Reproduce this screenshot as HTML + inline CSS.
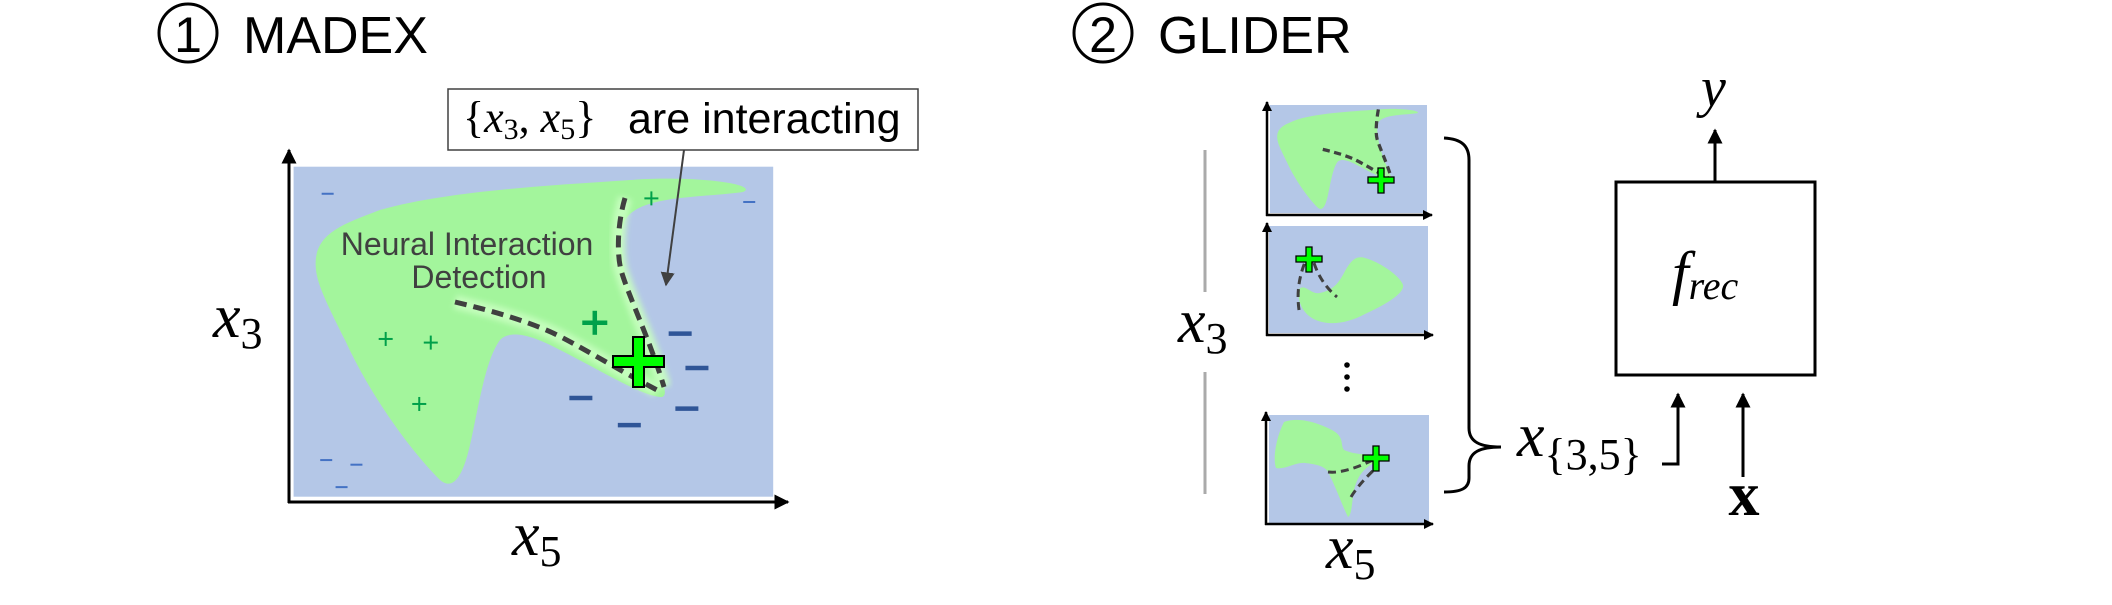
<!DOCTYPE html>
<html><head><meta charset="utf-8"><style>
html,body{margin:0;padding:0;background:#fff;}
svg{display:block;}
.sans{font-family:"Liberation Sans",Arial,sans-serif;}
.math{font-family:"Liberation Serif","DejaVu Serif",serif;font-style:italic;}
.rm{font-family:"Liberation Serif","DejaVu Serif",serif;}
</style></head><body>
<svg id="fig" width="2112" height="605" viewBox="0 0 2112 605" xmlns="http://www.w3.org/2000/svg">
<defs>
<marker id="ah" viewBox="0 0 10 10" refX="9" refY="5" markerWidth="5" markerHeight="5" orient="auto"><path d="M0,0 L10,5 L0,10 Z" fill="#000"/></marker>
<marker id="ahs" viewBox="0 0 10 10" refX="9" refY="5" markerWidth="4" markerHeight="4" orient="auto"><path d="M0,0 L10,5 L0,10 Z" fill="#000"/></marker>
<marker id="ahg" viewBox="0 0 10 10" refX="9" refY="5" markerWidth="7" markerHeight="7" orient="auto"><path d="M0,0 L10,5 L0,10 Z" fill="#404040"/></marker>
<filter id="blur" x="-20%" y="-20%" width="140%" height="140%"><feGaussianBlur stdDeviation="3"/></filter>
<g id="blob">
<path d="M316,270 C312,235 340,225 380,210 C450,190 560,185 630,180 C700,175 760,185 743,192 C700,198 640,195 625,220 C615,240 628,300 645,340 C660,375 672,398 660,397 C640,395 600,370 560,350 C530,334 510,330 500,340 C485,360 478,410 470,445 C462,480 452,490 440,480 C410,450 370,395 345,340 C325,300 318,285 316,270 Z" fill="#a3f59c"/>
</g>
</defs>

<g>
<circle cx="188" cy="33" r="29" fill="none" stroke="#000" stroke-width="3"/>
<text x="188" y="52" text-anchor="middle" class="sans" font-size="50">1</text>
<text x="243" y="53" class="sans" font-size="52">MADEX</text>
</g>

<g>
<rect x="293.6" y="166.7" width="479.6" height="330" fill="#b4c7e7"/>
<use href="#blob"/>
<path d="M455,302 C480,308 520,318 553,333 C580,346 615,368 657,390" fill="none" stroke="#c8ffc0" stroke-width="14" filter="url(#blur)" opacity="0.9"/>
<path d="M625,198 C617,225 617,255 621,270 C628,295 650,340 664,387" fill="none" stroke="#c8ffc0" stroke-width="14" filter="url(#blur)" opacity="0.9"/>
<path d="M455,302 C480,308 520,318 553,333 C580,346 615,368 657,390" fill="none" stroke="#404040" stroke-width="5" stroke-dasharray="12 7"/>
<path d="M625,198 C617,225 617,255 621,270 C628,295 650,340 664,387" fill="none" stroke="#404040" stroke-width="5" stroke-dasharray="12 7"/>
<text x="467" y="255" text-anchor="middle" class="sans" font-size="32" fill="#404040">Neural Interaction</text>
<text x="479" y="288" text-anchor="middle" class="sans" font-size="32" fill="#404040">Detection</text>
<g id="markers"></g>
<path d="M633,337 h11 v19 h20 v11 h-20 v20 h-11 v-20 h-20 v-11 h20 z" fill="#00ff00" stroke="#000" stroke-width="2"/>
<line x1="289" y1="503" x2="289" y2="150" stroke="#000" stroke-width="3" marker-end="url(#ah)"/>
<line x1="288" y1="502" x2="788" y2="502" stroke="#000" stroke-width="3" marker-end="url(#ah)"/>
<text x="213" y="337" class="math" font-size="62">x<tspan class="rm" font-style="normal" font-size="44" dy="11">3</tspan></text>
<text x="512" y="555" class="math" font-size="62">x<tspan class="rm" font-style="normal" font-size="44" dy="11">5</tspan></text>
</g>

<g>
<rect x="448" y="89" width="470" height="61" fill="#fff" stroke="#404040" stroke-width="1.5"/>
<text x="463" y="132" font-size="44"><tspan class="rm">{</tspan><tspan class="math">x</tspan><tspan class="rm" font-size="30" dy="7">3</tspan><tspan class="rm" dy="-7">, </tspan><tspan class="math">x</tspan><tspan class="rm" font-size="30" dy="7">5</tspan><tspan class="rm" dy="-7">}</tspan></text>
<text x="628" y="133" class="sans" font-size="43">are interacting</text>
<line x1="684" y1="150" x2="666" y2="285" stroke="#404040" stroke-width="2" marker-end="url(#ahg)"/>
</g>

<g>
<circle cx="1103" cy="33" r="29" fill="none" stroke="#000" stroke-width="3"/>
<text x="1103" y="52" text-anchor="middle" class="sans" font-size="50">2</text>
<text x="1158" y="53" class="sans" font-size="52">GLIDER</text>
</g>

<line x1="1205" y1="150" x2="1205" y2="292" stroke="#aaa" stroke-width="3"/>
<line x1="1205" y1="372" x2="1205" y2="494" stroke="#aaa" stroke-width="3"/>
<text x="1178" y="342" class="math" font-size="62">x<tspan class="rm" font-style="normal" font-size="44" dy="11">3</tspan></text>

<g>
<rect x="1270" y="105" width="157" height="108" fill="#b4c7e7"/>
<g transform="translate(1270,105) scale(0.327,0.328) translate(-293.6,-166.7)">
<use href="#blob"/>
<path d="M455,302 C480,308 520,318 553,333 C580,346 615,368 657,390" fill="none" stroke="#404040" stroke-width="10" stroke-dasharray="22 14"/>
<path d="M625,180 C617,225 617,255 621,270 C628,295 650,340 664,387" fill="none" stroke="#404040" stroke-width="10" stroke-dasharray="22 14"/>
</g>
<path d="M1378,168 h6 v9 h10 v6 h-10 v10 h-6 v-10 h-10 v-6 h10 z" fill="#00ff00" stroke="#000" stroke-width="1.3"/>
<line x1="1267" y1="216" x2="1267" y2="102" stroke="#000" stroke-width="2.5" marker-end="url(#ahs)"/>
<line x1="1266" y1="215" x2="1432" y2="215" stroke="#000" stroke-width="2.5" marker-end="url(#ahs)"/>
</g>

<g>
<rect x="1269" y="226" width="159" height="107" fill="#b4c7e7"/>
<path d="M1298,290 C1298,305 1305,318 1322,322 C1335,325 1350,322 1365,314 C1385,305 1405,293 1403,285 C1400,276 1380,262 1365,258 C1355,255 1350,262 1344,273 C1338,284 1333,290 1320,293 C1310,295 1305,282 1298,290 Z" fill="#a3f59c"/>
<path d="M1299,310 C1297,295 1298,280 1305,262" fill="none" stroke="#404040" stroke-width="3" stroke-dasharray="8 5"/>
<path d="M1314,263 C1318,275 1325,287 1337,297" fill="none" stroke="#404040" stroke-width="3" stroke-dasharray="8 5"/>
<path d="M1306,247 h6 v9 h10 v6 h-10 v10 h-6 v-10 h-10 v-6 h10 z" fill="#00ff00" stroke="#000" stroke-width="1.3"/>
<line x1="1267" y1="336" x2="1267" y2="223" stroke="#000" stroke-width="2.5" marker-end="url(#ahs)"/>
<line x1="1266" y1="335" x2="1433" y2="335" stroke="#000" stroke-width="2.5" marker-end="url(#ahs)"/>
</g>
<g>
<circle cx="1347" cy="365" r="2.8" fill="#000"/><circle cx="1347" cy="377" r="2.8" fill="#000"/><circle cx="1347" cy="389" r="2.8" fill="#000"/>
</g>

<g>
<rect x="1269" y="415" width="160" height="108" fill="#b4c7e7"/>
<path d="M1284,422 C1275,440 1273,460 1276,468 C1285,470 1295,462 1305,463 C1315,464 1325,466 1328,472 C1335,485 1342,505 1348,517 C1352,515 1352,500 1354,490 C1357,478 1362,470 1372,464 C1380,458 1388,455 1382,454 C1370,455 1355,455 1344,450 C1340,445 1345,437 1332,430 C1320,424 1300,416 1284,422 Z" fill="#a3f59c"/>
<path d="M1328,472 C1337,473 1350,471 1373,460" fill="none" stroke="#404040" stroke-width="3" stroke-dasharray="8 5"/>
<path d="M1351,497 C1355,490 1365,478 1376,468" fill="none" stroke="#404040" stroke-width="3" stroke-dasharray="8 5"/>
<path d="M1373,446 h6 v9 h10 v6 h-10 v10 h-6 v-10 h-10 v-6 h10 z" fill="#00ff00" stroke="#000" stroke-width="1.3"/>
<line x1="1266" y1="525" x2="1266" y2="412" stroke="#000" stroke-width="2.5" marker-end="url(#ahs)"/>
<line x1="1265" y1="524" x2="1433" y2="524" stroke="#000" stroke-width="2.5" marker-end="url(#ahs)"/>
</g>
<text x="1326" y="568" class="math" font-size="62">x<tspan class="rm" font-style="normal" font-size="44" dy="11">5</tspan></text>

<path d="M1444,138 C1462,139 1469,146 1469,160 L1469,428 C1469,442 1480,447 1501,447 C1480,447 1469,452 1469,466 L1469,478 C1469,488 1462,492 1444,492" fill="none" stroke="#000" stroke-width="3"/>
<text x="1517" y="456" class="math" font-size="62">x<tspan class="rm" font-style="normal" font-size="44" dy="13">{3,5}</tspan></text>

<rect x="1616" y="182" width="199" height="193" fill="#fff" stroke="#000" stroke-width="3"/>
<text x="1672" y="293" class="math" font-size="60">f<tspan font-size="40" dy="6">rec</tspan></text>
<line x1="1715" y1="182" x2="1715" y2="130" stroke="#000" stroke-width="3" marker-end="url(#ah)"/>
<text x="1701" y="106" class="math" font-size="56">y</text>
<path d="M1662,464 L1678,464 L1678,394" fill="none" stroke="#000" stroke-width="3" marker-end="url(#ah)"/>
<line x1="1743" y1="477" x2="1743" y2="394" stroke="#000" stroke-width="3" marker-end="url(#ah)"/>
<text x="1744" y="515" text-anchor="middle" class="rm" font-weight="bold" font-size="62">x</text>
</svg>
<script>
var bigMinusX = [0.806, 0.841, 0.599, 0.820, 0.700];
var bigMinusY = [0.494, 0.390, 0.299, 0.267, 0.217];
var smallMinusX = [0.071, 0.950, 0.068, 0.131, 0.100];
var smallMinusY = [0.918, 0.893, 0.111, 0.097, 0.029];
var smallPlusX = [0.192, 0.286, 0.262, 0.746];
var smallPlusY = [0.478, 0.467, 0.281, 0.904];
var medPlusX = [0.628];
var medPlusY = [0.527];
function sx(v){return 293.6 + v*479.6;}
function sy(v){return 496.7 - v*330;}
var g = document.getElementById('markers');
var NS = 'http://www.w3.org/2000/svg';
function line(x1,y1,x2,y2,col,w){
  var l=document.createElementNS(NS,'line');
  l.setAttribute('x1',x1);l.setAttribute('y1',y1);l.setAttribute('x2',x2);l.setAttribute('y2',y2);
  l.setAttribute('stroke',col);l.setAttribute('stroke-width',w);
  g.appendChild(l);return l;
}
var i,cx,cy,el;
for(i=0;i<bigMinusX.length;i++){
  cx=sx(bigMinusX[i]);cy=sy(bigMinusY[i]);
  el=line(cx-11.5,cy,cx+11.5,cy,'#2f5597',4.5);
  
  
}
for(i=0;i<smallMinusX.length;i++){
  cx=sx(smallMinusX[i]);cy=sy(smallMinusY[i]);
  el=line(cx-6,cy,cx+6,cy,'#4472c4',2);
  
  
}
for(i=0;i<smallPlusX.length;i++){
  cx=sx(smallPlusX[i]);cy=sy(smallPlusY[i]);
  el=line(cx-7,cy,cx+7,cy,'#00a04a',2);
  
  
  el=line(cx,cy-7,cx,cy+7,'#00a04a',2);
  
  
}
for(i=0;i<medPlusX.length;i++){
  cx=sx(medPlusX[i]);cy=sy(medPlusY[i]);
  el=line(cx-12.5,cy,cx+12.5,cy,'#00a04a',4.5);
  
  
  el=line(cx,cy-12,cx,cy+12,'#00a04a',4.5);
  
  
}
</script>
</body></html>
